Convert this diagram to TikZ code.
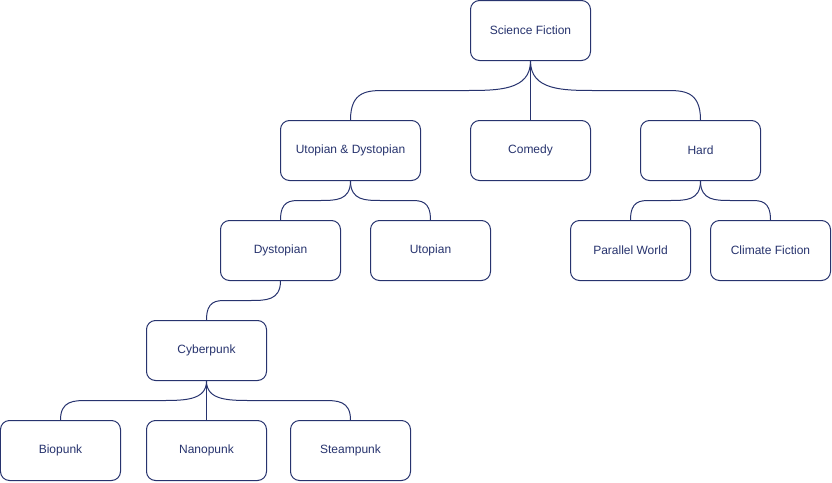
\documentclass[tikz,border=0pt]{standalone}
\usepackage{fontspec}
\setmainfont{Liberation Sans}
\usetikzlibrary{calc}
\definecolor{ink}{HTML}{27336E}

% Curved tree connector: leaves the parent downwards, runs flat at mid height,
% then drops into the child. #3/#4 are the horizontal extents of the two bends.
\newcommand\treelink[4]{%
  \draw[link] let \p1=(#1.south), \p2=(#2.north), \p3=($(\p1)!0.5!(\p2)$) in
    (\p1) .. controls (\x1,\y3) and ({\x1+0.5*(#3pt)},\y3) .. ({\x1+(#3pt)},\y3)
    -- ({\x2+(#4pt)},\y3) .. controls ({\x2+0.5*(#4pt)},\y3) and (\x2,\y3) .. (\p2);
}

\tikzset{
  topic/.style={draw=ink, line width=1pt, rounded corners=9pt, fill=white,
    minimum width=120pt, minimum height=60pt, inner sep=0pt, text=ink,
    font=\fontsize{12}{14}\selectfont},
  wide/.style={minimum width=140pt},
  link/.style={draw=ink, line width=1pt},
}

\begin{document}
\begin{tikzpicture}[x=1pt, y=-1pt]
\useasboundingbox (-0.5,-0.5) rectangle (831.5,481.5);

\node[topic] (sf)    at (530,30)  {Science Fiction};
\node[topic,wide] (ud) at (350,150) {Utopian \& Dystopian};
\node[topic] (com)   at (530,150) {Comedy};
\node[topic] (hard)  at (700,150) {Hard};
\node[topic] (dys)   at (280,250) {Dystopian};
\node[topic] (uto)   at (430,250) {Utopian};
\node[topic] (par)   at (630,250) {Parallel World};
\node[topic] (cli)   at (770,250) {Climate Fiction};
\node[topic] (cyb)   at (206,350) {Cyberpunk};
\node[topic] (bio)   at (60,450)  {Biopunk};
\node[topic] (nano)  at (206,450) {Nanopunk};
\node[topic] (steam) at (350,450) {Steampunk};

\treelink{sf}{ud}{-65}{35}
\draw[link] (sf.south) -- (com.north);
\treelink{sf}{hard}{65}{-35}

\treelink{ud}{dys}{-30}{20}
\treelink{ud}{uto}{30}{-20}
\treelink{hard}{par}{-30}{20}
\treelink{hard}{cli}{30}{-20}

\treelink{dys}{cyb}{-30}{20}

\treelink{cyb}{bio}{-45}{27}
\draw[link] (cyb.south) -- (nano.north);
\treelink{cyb}{steam}{45}{-27}
\end{tikzpicture}
\end{document}
